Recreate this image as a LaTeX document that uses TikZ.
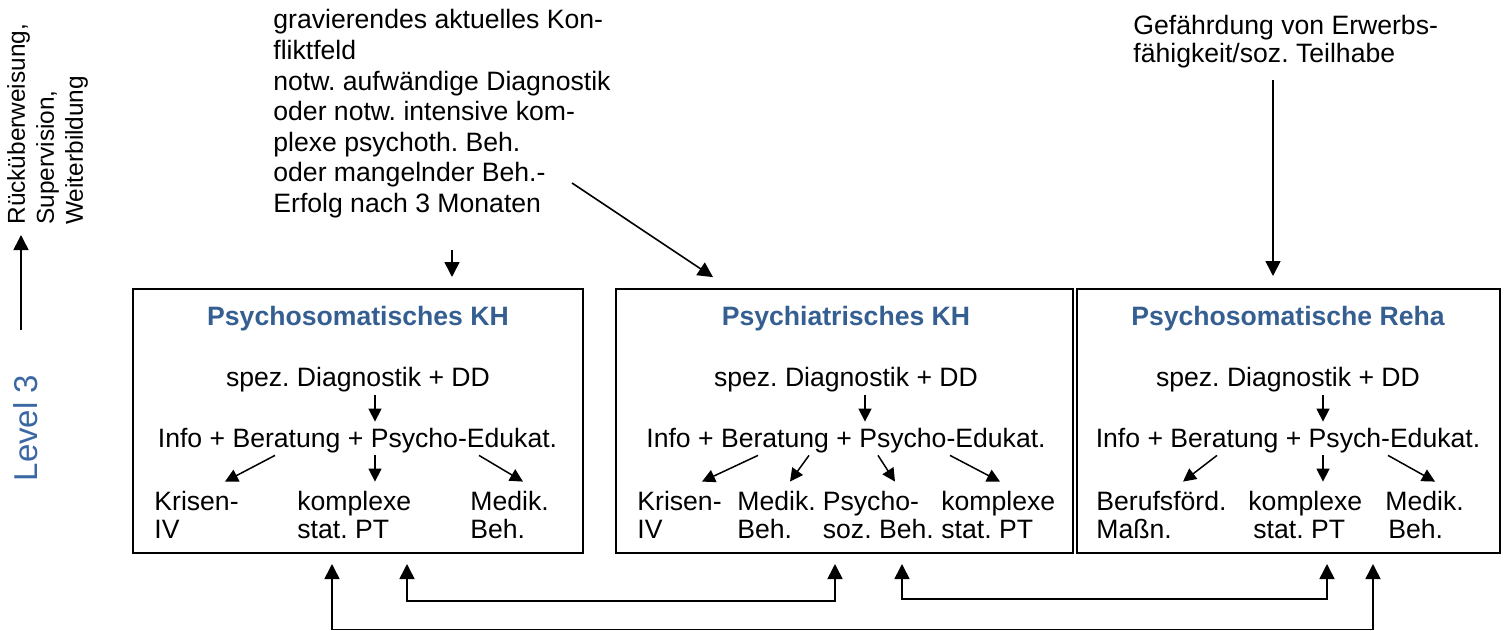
\documentclass[tikz,border=0pt]{standalone}
\usepackage{fontspec}
\setmainfont{Liberation Sans}
\usetikzlibrary{arrows.meta}
\definecolor{tblue}{HTML}{365F91}
\definecolor{lblue}{HTML}{3B68A3}
\frenchspacing
\newcommand\fsz{\fontsize{13.3pt}{14pt}\selectfont}
\newcommand\twol[2]{\begin{tabular}[t]{@{}l@{}}#1\\#2\end{tabular}}
\begin{document}
\begin{tikzpicture}[x=0.5pt,y=-0.5pt,
  box/.style={draw, line width=1pt, inner sep=0pt},
  ttl/.style={anchor=base, inner sep=0pt, font=\fsz\bfseries, text=tblue},
  sp/.style={anchor=base, inner sep=0pt, text depth=4.5pt, font=\fsz},
  inf/.style={anchor=base, inner sep=0pt, text height=12.5pt, text depth=4pt, font=\fsz},
  lab/.style={anchor=base west, inner xsep=0pt, inner ysep=4.2pt, font=\fsz},
  arr/.style={-{Triangle[width=6.5pt,length=6.5pt]}, line width=0.75pt},
  bigarr/.style={-{Triangle[width=7.5pt,length=7.5pt]}, line width=0.8pt},
  barr/.style={{Triangle[width=7.5pt,length=7.5pt]}-{Triangle[width=7.5pt,length=7.5pt]}, line width=0.8pt, shorten <=5pt, shorten >=5pt},
]
\useasboundingbox (0,0) rectangle (1506,631);

% left margin
\node[inner sep=0pt, rotate=90, anchor=base, font=\fontsize{16.5pt}{18pt}\selectfont, text=lblue] (lvl) at (37,428) {Level 3};
\node[inner sep=0pt, rotate=90, anchor=base west, font=\fontsize{12.2pt}{14.5pt}\selectfont] (rl) at (25,225)
  {\begin{tabular}[t]{@{}l@{}}Rücküberweisung,\\Supervision,\\Weiterbildung\end{tabular}};
\coordinate (la) at (21,330);
\draw[bigarr, shorten >=5pt] (la) -- (la |- rl.west);

% boxes
\node[box, minimum width=225pt, minimum height=132pt] (box1) at (358,421) {};
\node[box, minimum width=228.5pt, minimum height=132pt] (box2) at (844.5,421) {};
\node[box, minimum width=211.5pt, minimum height=132pt] (box3) at (1288.5,421) {};

% top texts
\node[anchor=base west, inner sep=0pt, font=\fontsize{13.3pt}{15.3pt}\selectfont] (cond) at (273,29)
  {\begin{tabular}[t]{@{}l@{}}gravierendes aktuelles Kon-\\fliktfeld\\notw. aufwändige Diagnostik\\oder notw. intensive kom-\\plexe psychoth. Beh.\\oder mangelnder Beh.-\\Erfolg nach 3 Monaten\end{tabular}};
\node[anchor=base west, inner sep=0pt, font=\fsz] (gef) at (1133,35)
  {\twol{Gefährdung von Erwerbs-}{fähigkeit/soz. Teilhabe}};

\coordinate (d1) at (572,183);
\draw[bigarr, shorten <=14pt, shorten >=5.5pt] (cond.south -| 452,0) -- (box1.north -| 452,0);
\draw[bigarr, shorten >=9.8pt] (d1) -- (box2.north -| 729.3,0);
\draw[bigarr, shorten <=4.3pt, shorten >=6pt] (gef.south -| 1273,0) -- (box3.north -| 1273,0);

% box 1
\node[ttl] (t1) at (358,325) {Psychosomatisches KH};
\node[sp] (s1) at (358,386) {spez. Diagnostik + DD};
\node[inf] (i1) at (357.5,447) {Info + Beratung + Psycho-Edukat.};
\node[lab] (a1) at (154,510) {\twol{Krisen-}{IV}};
\node[lab] (a2) at (297,510) {\twol{komplexe}{stat. PT}};
\node[lab] (a3) at (470,510) {\twol{Medik.}{Beh.}};
\draw[arr] (s1.south -| 375,0) -- (i1.north -| 375,0);
\draw[arr] (i1.south -| 275,0) -- (a1.north -| 225,0);
\draw[arr] (i1.south -| 375,0) -- (a2.north -| 375,0);
\draw[arr] (i1.south -| 479,0) -- (a3.north -| 523,0);

% box 2
\node[ttl] (t2) at (846,325) {Psychiatrisches KH};
\node[sp] (s2) at (846,386) {spez. Diagnostik + DD};
\node[inf] (i2) at (846,447) {Info + Beratung + Psycho-Edukat.};
\node[lab] (b1) at (637,510) {\twol{Krisen-}{IV}};
\node[lab] (b2) at (737,510) {\twol{Medik.}{Beh.}};
\node[lab] (b3) at (822.5,510) {\twol{Psycho-}{soz. Beh.}};
\node[lab] (b4) at (941,510) {\twol{komplexe}{stat. PT}};
\draw[arr] (s2.south -| 865,0) -- (i2.north -| 865,0);
\draw[arr] (i2.south -| 758,0) -- (b1.north -| 702,0);
\draw[arr] (i2.south -| 809,0) -- (b2.north -| 790,0);
\draw[arr] (i2.south -| 878,0) -- (b3.north -| 895,0);
\draw[arr] (i2.south -| 950,0) -- (b4.north -| 1000,0);

% box 3
\node[ttl] (t3) at (1288,325) {Psychosomatische Reha};
\node[sp] (s3) at (1288,386) {spez. Diagnostik + DD};
\node[inf] (i3) at (1288,447) {Info + Beratung + Psych-Edukat.};
\node[lab] (c1) at (1096,510) {\twol{Berufsförd.}{Maßn.}};
\node[lab] (c2) at (1248,510) {\twol{komplexe}{\hspace{2.5pt}stat. PT}};
\node[lab] (c3) at (1385,510) {\twol{Medik.}{\hspace{1.5pt}Beh.}};
\draw[arr] (s3.south -| 1323,0) -- (i3.north -| 1323,0);
\draw[arr] (i3.south -| 1217,0) -- (c1.north -| 1183,0);
\draw[arr] (i3.south -| 1323,0) -- (c2.north -| 1323,0);
\draw[arr] (i3.south -| 1388,0) -- (c3.north -| 1435,0);

% bottom links
\coordinate (p1) at (407,601);
\coordinate (p2) at (835,601);
\coordinate (q1) at (902,599);
\coordinate (q2) at (1327,599);
\coordinate (r1) at (332,629.5);
\coordinate (r2) at (1373,629.5);
\draw[barr] (p1 |- box1.south) -- (p1) -- (p2) -- (p2 |- box2.south);
\draw[barr] (q1 |- box2.south) -- (q1) -- (q2) -- (q2 |- box3.south);
\draw[barr] (r1 |- box1.south) -- (r1) -- (r2) -- (r2 |- box3.south);
\end{tikzpicture}
\end{document}
